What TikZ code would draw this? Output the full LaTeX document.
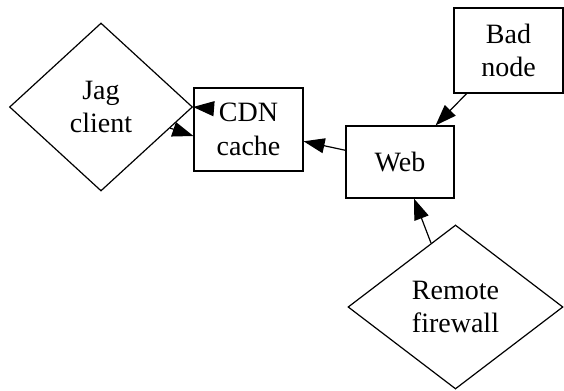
\documentclass[tikz,border=0pt]{standalone}
\usepackage{fontspec}
\setmainfont{Liberation Serif}
\usetikzlibrary{shapes.geometric,arrows.meta}
\begin{document}
\begin{tikzpicture}[x=0.5pt,y=-0.5pt,
    box/.style={draw, line width=0.6pt, inner sep=0pt, align=center,
      font=\fontsize{14}{16.8}\selectfont},
    decision/.style={box, diamond},
    edge/.style={line width=0.6pt, -{Triangle[length=10.5pt,width=7.5pt]}}]
  \useasboundingbox (0,0) rectangle (564,391);
  % nodes
  \node[decision, minimum width=91.5pt, minimum height=84pt] (jag) at (101,107) {Jag\\client};
  \node[box, minimum width=54.5pt, minimum height=41.5pt] (cdn) at (248.5,129.5) {CDN\\cache};
  \node[box, minimum width=54pt, minimum height=36pt] (web) at (400,162) {Web};
  \node[box, minimum width=54.5pt, minimum height=42.5pt] (bad) at (508.5,50.5) {Bad\\node};
  \node[decision, minimum width=107.5pt, minimum height=82pt] (remote) at (455.5,307) {Remote\\firewall};
  % edges
  \draw[edge] (bad) -- (web);
  \draw[edge] (web) -- (cdn);
  \draw[edge] (remote) -- (web);
  \draw[edge] (jag.-17.6) -- ([yshift=-3.25pt]cdn.west);
  \draw[edge] ([xshift=9pt,yshift=10.5pt]cdn.west) -- (jag.east);
\end{tikzpicture}
\end{document}
